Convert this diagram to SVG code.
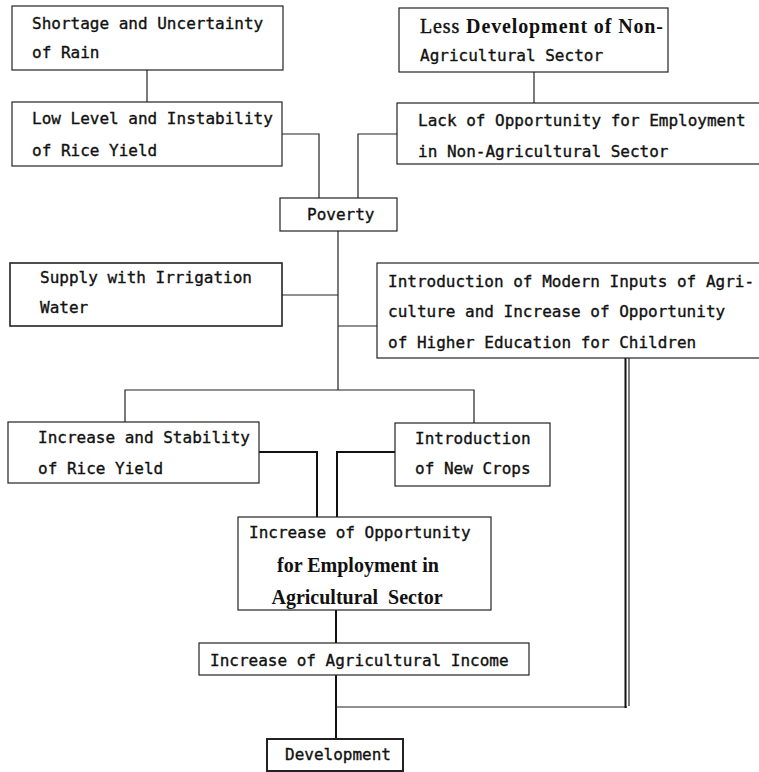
<svg xmlns="http://www.w3.org/2000/svg" width="759" height="772" viewBox="0 0 759 772">
<style>
.box{fill:#fff;stroke:#222;stroke-width:1.2}
.thick{stroke-width:2}
.t{font-family:"DejaVu Sans Mono","Liberation Mono",monospace;font-size:16px;fill:#111;stroke:#111;stroke-width:0.35}
.b{font-family:"Liberation Serif","Times New Roman",serif;font-size:20px;font-weight:bold;fill:#111}
.r{font-family:"Liberation Serif","Times New Roman",serif;font-size:20px;fill:#111;stroke:#111;stroke-width:0.4}
.c{fill:none;stroke:#222;stroke-width:1.2}
.c2{fill:none;stroke:#111;stroke-width:2}
</style>
<rect width="759" height="772" fill="#fff"/>
<g id="connectors">
<path class="c" d="M147 70V102"/>
<path class="c" d="M534 72V103"/>
<path class="c" d="M282 134H319V198"/>
<path class="c" d="M397 134H358V198"/>
<path class="c" d="M338 231V390"/>
<path class="c" d="M282 295H338"/>
<path class="c" d="M338 326H377"/>
<path class="c" d="M125 422V390H474V423"/>
<path class="c2" d="M259 452H317V517"/>
<path class="c2" d="M395 452H337V517"/>
<path class="c2" d="M336 610V643"/>
<path class="c2" d="M336 675V739"/>
<path class="c" d="M336 707H627"/>
<path class="c2" d="M625.5 358V708"/>
<path class="c" d="M629 358V706"/>
</g>
<g id="n1"><rect class="box" x="12" y="6" width="271" height="64"/>
<text class="t" x="32" y="29">Shortage and Uncertainty</text><text class="t" x="32" y="58">of Rain</text></g>
<g id="n2"><rect class="box" x="12" y="102" width="270" height="64"/>
<text class="t" x="32" y="124">Low Level and Instability</text><text class="t" x="32" y="156">of Rice Yield</text></g>
<g id="n3"><rect class="box" x="399" y="8" width="269" height="64"/>
<text x="420" y="33" textLength="243" lengthAdjust="spacing"><tspan class="r">Less </tspan><tspan class="b">Development of Non-</tspan></text>
<text class="t" x="420" y="61">Agricultural Sector</text></g>
<g id="n4"><rect class="box" x="397" y="103" width="380" height="61"/>
<text class="t" x="418" y="126">Lack of Opportunity for Employment</text><text class="t" x="418" y="157">in Non-Agricultural Sector</text></g>
<g id="n5"><rect class="box" x="280" y="198" width="117" height="33"/>
<text class="t" x="307" y="220">Poverty</text></g>
<g id="n6"><rect class="box" x="10" y="263" width="272" height="63" style="stroke-width:1.6"/>
<text class="t" x="40" y="283">Supply with Irrigation</text><text class="t" x="40" y="313">Water</text></g>
<g id="n7"><rect class="box" x="377" y="263" width="400" height="95"/>
<text class="t" x="388" y="287">Introduction of Modern Inputs of Agri-</text>
<text class="t" x="388" y="317">culture and Increase of Opportunity</text>
<text class="t" x="388" y="348">of Higher Education for Children</text></g>
<g id="n8"><rect class="box" x="8" y="422" width="251" height="61"/>
<text class="t" x="38" y="443">Increase and Stability</text><text class="t" x="38" y="474">of Rice Yield</text></g>
<g id="n9"><rect class="box" x="395" y="423" width="155" height="63"/>
<text class="t" x="415" y="444">Introduction</text><text class="t" x="415" y="474">of New Crops</text></g>
<g id="n10"><rect class="box" x="238" y="517" width="253" height="93"/>
<text class="t" x="249" y="538">Increase of Opportunity</text>
<text class="b" x="358" y="572" text-anchor="middle">for Employment in</text>
<text class="b" x="357" y="604" text-anchor="middle" xml:space="preserve">Agricultural  Sector</text></g>
<g id="n11"><rect class="box" x="199" y="643" width="330" height="32"/>
<text class="t" x="210" y="666">Increase of Agricultural Income</text></g>
<g id="n12"><rect class="box thick" x="267" y="739" width="136" height="32"/>
<text class="t" x="285" y="760">Development</text></g>
</svg>
